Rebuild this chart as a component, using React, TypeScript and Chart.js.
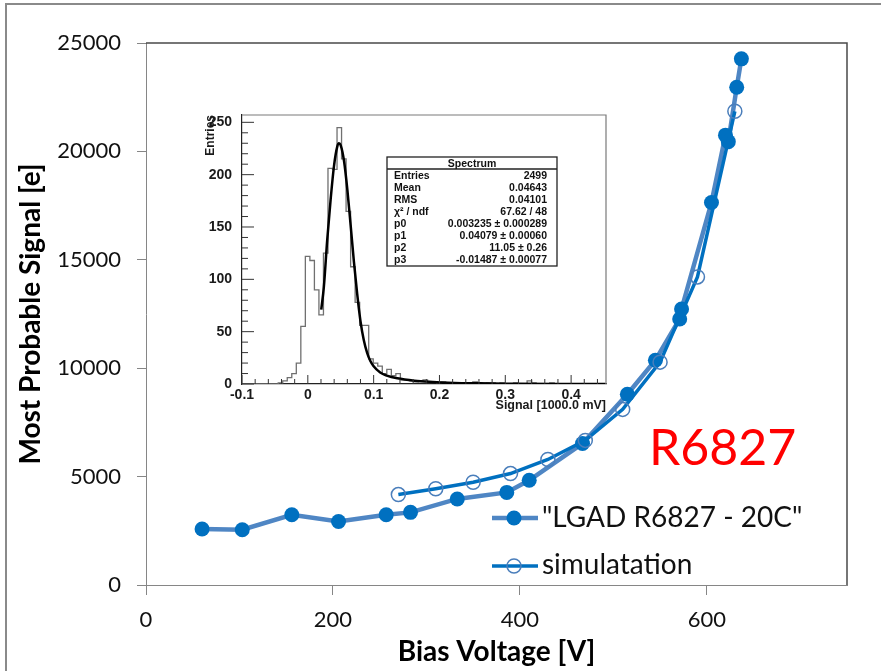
import React, { useEffect, useRef } from "react";
import { Chart, registerables } from "chart.js";

Chart.register(...registerables);

// ---------- main chart data ----------
const measuredVoltage = [60, 103, 156, 206, 257, 283, 333, 386, 410, 467, 515, 545, 571, 573, 605, 620, 623, 632, 637];
const measuredSignal = [2580, 2550, 3240, 2930, 3240, 3350, 3970, 4270, 4830, 6530, 8800, 10370, 12270, 12730, 17640, 20750, 20450, 22960, 24270];
const simVoltage = [270, 310, 350, 390, 430, 470, 510, 550, 590, 630];
const simSignal = [4170, 4440, 4740, 5140, 5790, 6670, 8100, 10280, 14210, 21850];

const xTickValues = [0, 200, 400, 600];
const yTickValues = [0, 5000, 10000, 15000, 20000, 25000];
const measuredLabel = '"LGAD R6827 - 20C"';
const simLabel = "simulatation";
const sampleLabel = "R6827";
const xTitle = "Bias Voltage [V]";
const yTitle = "Most Probable Signal [e]";

// ---------- inset (ROOT histogram) data ----------
const histMin = -0.1;
const histBinWidth = 0.006875;
const histCounts = [
  0, 0, 0, 0, 0, 0, 0, 0, 1, 3,
  6, 10, 20, 55, 122, 118, 90, 66, 125, 206,
  205, 245, 215, 165, 112, 78, 56, 56, 24, 20,
  17, 10, 14, 8, 10, 4, 4, 3, 2, 3,
  4, 2, 2, 1, 2, 1, 1, 0, 1, 1,
  1, 2, 1, 0, 1, 1, 0, 1, 0, 0,
  1, 0, 0, 3, 1, 0, 0, 0, 1, 0,
  0, 0, 0, 0, 0, 0, 0, 0, 0, 0,
];
const fitX = [0.0204, 0.0244, 0.0295, 0.0346, 0.0397, 0.0448, 0.0473, 0.05, 0.055, 0.06, 0.065, 0.07, 0.075, 0.08, 0.085, 0.09, 0.095, 0.1, 0.11, 0.12, 0.136, 0.162, 0.19, 0.213, 0.26, 0.3145, 0.38, 0.452];
const fitY = [71, 93, 138, 176, 208, 227, 230, 228, 213, 186, 152, 117, 86, 60, 42, 30, 22, 17, 11, 8, 5.4, 3.2, 2.0, 1.3, 0.6, 0.3, 0.1, 0.05];
const insetXTicks = [-0.1, 0, 0.1, 0.2, 0.3, 0.4];
const insetYTicks = [0, 50, 100, 150, 200, 250];
const insetXTitle = "Signal [1000.0 mV]";
const insetYTitle = "Entries";
const statsTitle = "Spectrum";
const statsNames = ["Entries", "Mean", "RMS", "\u03C7\u00B2 / ndf", "p0", "p1", "p2", "p3"];
const statsValues = ["2499", "0.04643", "0.04101", "67.62 / 48", "0.003235 \u00B1 0.000289", "0.04079 \u00B1 0.00060", "11.05 \u00B1 0.26", "-0.01487 \u00B1 0.00077"];

const MEAS_LINE = "#4f86c4";
const MEAS_MARK = "#0070C0";
const SIM_LINE = "#0070C0";
const SIM_MARK = "#4a7ebb";
const AXIS_GRAY = "#868686";

const mainDecor = {
  id: "mainDecor",
  afterDraw(chart: any) {
    const { ctx, chartArea: a } = chart;
    ctx.save();
    ctx.strokeStyle = "#4a4a4a";
    ctx.lineWidth = 1.5;
    ctx.beginPath();
    ctx.moveTo(a.left, a.top);
    ctx.lineTo(a.right, a.top);
    ctx.lineTo(a.right, a.bottom);
    ctx.stroke();

    // legend
    const lx1 = a.right - 355;
    const lx2 = a.right - 309;
    const mx = a.right - 333;
    const tx = a.right - 305;
    const y1 = a.bottom - 67;
    const y2 = a.bottom - 19;
    ctx.lineCap = "butt";
    ctx.strokeStyle = MEAS_LINE;
    ctx.lineWidth = 4.5;
    ctx.beginPath();
    ctx.moveTo(lx1, y1);
    ctx.lineTo(lx2, y1);
    ctx.stroke();
    ctx.fillStyle = MEAS_MARK;
    ctx.beginPath();
    ctx.arc(mx, y1, 7.5, 0, Math.PI * 2);
    ctx.fill();

    ctx.strokeStyle = SIM_LINE;
    ctx.lineWidth = 3.5;
    ctx.beginPath();
    ctx.moveTo(lx1, y2);
    ctx.lineTo(lx2, y2);
    ctx.stroke();
    ctx.strokeStyle = SIM_MARK;
    ctx.lineWidth = 1.5;
    ctx.beginPath();
    ctx.arc(mx, y2, 7, 0, Math.PI * 2);
    ctx.stroke();

    ctx.fillStyle = "#111";
    ctx.font = "28px Lato";
    ctx.textAlign = "left";
    ctx.textBaseline = "alphabetic";
    ctx.fillText(measuredLabel, tx, y1 + 9);
    ctx.fillText(simLabel, tx, y2 + 8);

    ctx.fillStyle = "#ff0000";
    ctx.font = "50px Lato";
    ctx.fillText(sampleLabel, a.right - 198, a.bottom - 120);
    ctx.restore();
  },
};

const insetDecor = {
  id: "insetDecor",
  afterDraw(chart: any) {
    const { ctx, chartArea: a, scales } = chart;
    const xs = scales.x;
    const ys = scales.y;
    ctx.save();
    ctx.strokeStyle = "#7a7a7a";
    ctx.lineWidth = 1.2;
    ctx.beginPath();
    ctx.moveTo(a.left, a.top);
    ctx.lineTo(a.right, a.top);
    ctx.lineTo(a.right, a.bottom);
    ctx.stroke();
    ctx.strokeStyle = "#333";
    ctx.lineWidth = 1;
    ctx.beginPath();
    for (let i = 0; i <= 25; i++) {
      const y = ys.getPixelForValue(i * 10);
      const len = i % 5 === 0 ? 12 : 6;
      ctx.moveTo(a.left, y);
      ctx.lineTo(a.left + len, y);
    }
    for (let i = 0; i <= 27; i++) {
      const x = xs.getPixelForValue(-0.1 + i * 0.02);
      const len = i % 5 === 0 ? 9 : 5;
      ctx.moveTo(x, a.bottom);
      ctx.lineTo(x, a.bottom - len);
    }
    ctx.stroke();

    const bx = 202, by = 57, bw = 170, bh = 109;
    ctx.fillStyle = "#fff";
    ctx.fillRect(bx, by, bw, bh);
    ctx.strokeStyle = "#222";
    ctx.lineWidth = 1.3;
    ctx.strokeRect(bx, by, bw, bh);
    ctx.beginPath();
    ctx.moveTo(bx, by + 12);
    ctx.lineTo(bx + bw, by + 12);
    ctx.stroke();
    ctx.fillStyle = "#111";
    ctx.font = "bold 10.5px 'Liberation Sans'";
    ctx.textBaseline = "alphabetic";
    ctx.textAlign = "center";
    ctx.fillText(statsTitle, bx + bw / 2, by + 10);
    for (let i = 0; i < statsNames.length; i++) {
      const yy = by + 21.5 + i * 12;
      ctx.textAlign = "left";
      ctx.fillText(statsNames[i], bx + 7, yy);
      ctx.textAlign = "right";
      ctx.fillText(statsValues[i], bx + bw - 10, yy);
    }
    ctx.restore();
  },
};

export default function App() {
  const mainRef = useRef<HTMLCanvasElement | null>(null);
  const insetRef = useRef<HTMLCanvasElement | null>(null);

  useEffect(() => {
    const mainChart = new Chart(mainRef.current as HTMLCanvasElement, {
      type: "line",
      data: {
        datasets: [
          {
            label: measuredLabel,
            data: measuredVoltage.map((v, i) => ({ x: v, y: measuredSignal[i] })),
            borderColor: MEAS_LINE,
            borderWidth: 4.5,
            pointRadius: 7.5,
            pointBackgroundColor: MEAS_MARK,
            pointBorderColor: MEAS_MARK,
            pointBorderWidth: 0,
            tension: 0,
            order: 2,
          },
          {
            label: simLabel,
            data: simVoltage.map((v, i) => ({ x: v, y: simSignal[i] })),
            borderColor: SIM_LINE,
            borderWidth: 3.5,
            pointRadius: 7,
            pointBackgroundColor: "rgba(0,0,0,0)",
            pointBorderColor: SIM_MARK,
            pointBorderWidth: 1.5,
            tension: 0,
            order: 1,
          },
        ],
      },
      options: {
        responsive: false,
        animation: false,
        devicePixelRatio: 1,
        layout: { padding: { left: 0, top: 43, right: 34, bottom: 0 } },
        plugins: { legend: { display: false }, tooltip: { enabled: false } },
        scales: {
          x: {
            type: "linear",
            min: 0,
            max: 750,
            afterBuildTicks: (s: any) => {
              s.ticks = xTickValues.map((v) => ({ value: v }));
            },
            afterFit: (s: any) => {
              s.height = 86;
            },
            ticks: {
              padding: 12,
              color: "#111",
              font: { family: "Lato", size: 22 },
              callback: (v: any) => String(v),
            },
            grid: { drawOnChartArea: false, drawTicks: true, tickLength: 10, color: AXIS_GRAY },
            border: { display: true, color: AXIS_GRAY, width: 1 },
            title: {
              display: true,
              text: xTitle,
              color: "#000",
              font: { family: "Lato", size: 28, weight: "bold" },
              padding: { top: 0, bottom: 2 },
            },
          },
          y: {
            type: "linear",
            min: 0,
            max: 25000,
            afterBuildTicks: (s: any) => {
              s.ticks = yTickValues.map((v) => ({ value: v }));
            },
            afterFit: (s: any) => {
              s.width = 146;
            },
            ticks: {
              padding: 16,
              color: "#111",
              font: { family: "Lato", size: 22 },
              callback: (v: any) => String(v),
            },
            grid: { drawOnChartArea: false, drawTicks: true, tickLength: 9, color: AXIS_GRAY },
            border: { display: true, color: AXIS_GRAY, width: 1 },
            title: {
              display: true,
              text: yTitle,
              color: "#000",
              font: { family: "Lato", size: 28, weight: "bold" },
              padding: { top: 14, bottom: 0 },
            },
          },
        },
      } as any,
      plugins: [mainDecor],
    });

    const histPoints = histCounts.map((c, i) => ({ x: histMin + i * histBinWidth, y: c }));
    histPoints.push({ x: histMin + histCounts.length * histBinWidth, y: 0 });

    const insetChart = new Chart(insetRef.current as HTMLCanvasElement, {
      type: "line",
      data: {
        datasets: [
          {
            label: "Spectrum",
            data: histPoints,
            stepped: "before",
            borderColor: "#707070",
            borderWidth: 1.3,
            pointRadius: 0,
            order: 2,
          },
          {
            label: "fit",
            data: fitX.map((x, i) => ({ x, y: fitY[i] })),
            borderColor: "#000",
            borderWidth: 2.5,
            pointRadius: 0,
            cubicInterpolationMode: "monotone",
            order: 1,
          },
        ],
      },
      options: {
        responsive: false,
        animation: false,
        devicePixelRatio: 1,
        layout: { padding: { left: 0, top: 15, right: 9, bottom: 0 } },
        plugins: { legend: { display: false }, tooltip: { enabled: false } },
        scales: {
          x: {
            type: "linear",
            min: -0.1,
            max: 0.453,
            afterBuildTicks: (s: any) => {
              s.ticks = insetXTicks.map((v) => ({ value: v }));
            },
            afterFit: (s: any) => {
              s.height = 31;
            },
            ticks: {
              padding: -5,
              color: "#1a1a1a",
              font: { family: "Liberation Sans", size: 14, weight: "bold" },
              callback: (v: any) => String(v),
            },
            grid: { display: false },
            border: { display: true, color: "#222", width: 1.2 },
            title: {
              display: true,
              text: insetXTitle,
              align: "end",
              color: "#1a1a1a",
              font: { family: "Liberation Sans", size: 12.5, weight: "bold" },
              padding: { top: 0, bottom: 2 },
            },
          },
          y: {
            type: "linear",
            min: 0,
            max: 257,
            afterBuildTicks: (s: any) => {
              s.ticks = insetYTicks.map((v) => ({ value: v }));
            },
            afterFit: (s: any) => {
              s.width = 57;
            },
            ticks: {
              padding: 2,
              color: "#1a1a1a",
              font: { family: "Liberation Sans", size: 14, weight: "bold" },
              callback: (v: any) => String(v),
            },
            grid: { display: false },
            border: { display: true, color: "#222", width: 1.2 },
            title: {
              display: true,
              text: insetYTitle,
              align: "end",
              color: "#1a1a1a",
              font: { family: "Liberation Sans", size: 12, weight: "bold" },
              padding: { top: 18, bottom: 0 },
            },
          },
        },
      } as any,
      plugins: [insetDecor],
    });

    return () => {
      mainChart.destroy();
      insetChart.destroy();
    };
  }, []);

  return (
    <div
      style={{
        position: "absolute",
        left: 0,
        top: 0,
        width: 881,
        height: 671,
        overflow: "hidden",
        background: "#fff",
      }}
    >
      <div
        style={{
          position: "absolute",
          left: 5,
          top: 3,
          width: 1000,
          height: 1000,
          border: "2px solid #8a8a8a",
        }}
      />
      <canvas
        ref={mainRef}
        width={881}
        height={671}
        style={{ position: "absolute", left: 0, top: 0, width: 881, height: 671 }}
      />
      <canvas
        ref={insetRef}
        width={430}
        height={315}
        style={{ position: "absolute", left: 185, top: 100, width: 430, height: 315 }}
      />
    </div>
  );
}
